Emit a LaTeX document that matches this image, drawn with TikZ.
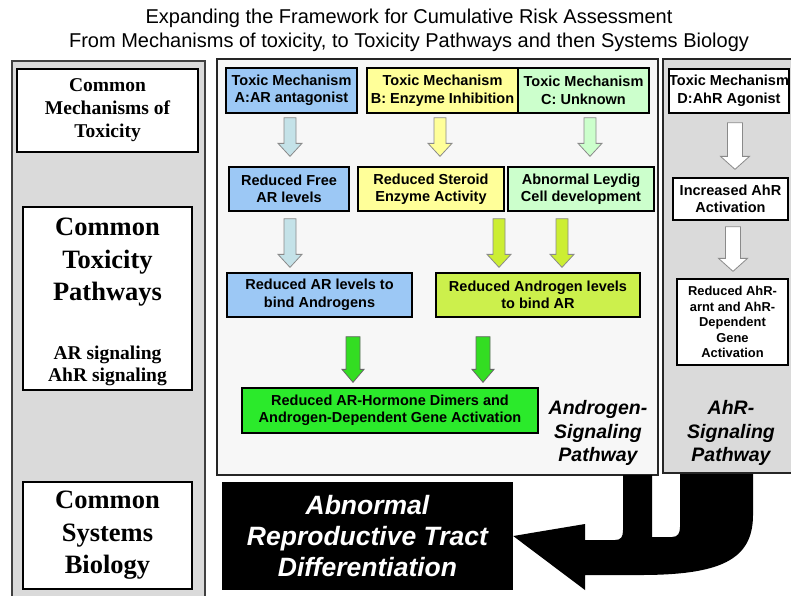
\documentclass[tikz,border=0pt]{standalone}
\usepackage{fontspec}
\setmainfont{Liberation Serif}
\setsansfont{Liberation Sans}
\usetikzlibrary{calc}
\definecolor{panelgray}{HTML}{DADADA}
\definecolor{midpanel}{HTML}{F7F7F7}
\definecolor{boxblue}{HTML}{9CC8F5}
\definecolor{boxyellow}{HTML}{FFFF99}
\definecolor{boxmint}{HTML}{CCFFCC}
\definecolor{boxlime}{HTML}{CCF04C}
\definecolor{boxgreen}{HTML}{2BEA2B}
\definecolor{arrcyan}{HTML}{C4E2E8}
\definecolor{arrlime}{HTML}{CCEE33}
\definecolor{arrgreen}{HTML}{33DD22}
\definecolor{arrline}{HTML}{8A8A8A}
\newcommand\barrow[6]{%
  \filldraw[fill=#1,draw=#2,line width=0.8pt,line join=miter] let \p1=#5, \p2=#6 in
  (\x1-#3,\y1) -- (\x1+#3,\y1) -- (\x1+#3,\y2+13pt) -- (\x1+#4,\y2+13pt)
  -- (\x1,\y2) -- (\x1-#4,\y2+13pt) -- (\x1-#3,\y2+13pt) -- cycle;}
\tikzset{
  mbox/.style={draw=black, line width=1.3pt, align=center, inner sep=0pt,
    font=\sffamily\bfseries\fontsize{14.5}{17.5}\selectfont},
  sbox/.style={mbox, font=\sffamily\bfseries\fontsize{12.9}{15.5}\selectfont},
  lbox/.style={draw=black, line width=1.6pt, fill=white, align=center, inner sep=0pt},
  ltext/.style={align=center, inner sep=0pt, font=\bfseries\fontsize{19.5}{23}\selectfont},
  bigtext/.style={align=center, inner sep=0pt, font=\bfseries\fontsize{26.5}{32.5}\selectfont},
  pathlabel/.style={align=center, inner sep=0pt, font=\sffamily\bfseries\itshape\fontsize{19.5}{23.5}\selectfont},
  titletext/.style={inner sep=0pt, font=\sffamily\fontsize{20}{24}\selectfont},
}
\begin{document}
\begin{tikzpicture}[x=1pt,y=-1pt]
\useasboundingbox (0,0) rectangle (791,595);
\fill[white] (0,0) rectangle (791,595);
% title
\node[titletext] (title1) at (409,18) {Expanding the Framework for Cumulative Risk Assessment};
\node[titletext] (title2) at (409,42) {From Mechanisms of toxicity, to Toxicity Pathways and then Systems Biology};
% panels
\filldraw[fill=panelgray, draw=black!75, line width=1.5pt] (12,61) rectangle (205,600);
\filldraw[fill=midpanel, draw=black!85, line width=1.6pt] (217,59) rectangle (658,475);
\filldraw[fill=panelgray, draw=black!85, line width=1.6pt] (663,59) rectangle (792,473);
% left column
\node[lbox, ltext, minimum width=181pt, minimum height=83pt] (cmt) at (107.5,110.5) {Common\\Mechanisms of\\Toxicity};
\node[lbox, minimum width=169pt, minimum height=183pt] (ctp) at (107.5,298.5) {};
\node[bigtext] (ctpa) at (107.5,262.5) {Common\\Toxicity\\Pathways};
\node[ltext, font=\bfseries\fontsize{19.5}{22}\selectfont] (ctpb) at (107.5,365.5) {AR signaling\\AhR signaling};
\node[lbox, bigtext, minimum width=169pt, minimum height=107pt] (csb) at (107.5,535.5) {Common\\Systems\\Biology};
% middle: row 1
\node[mbox, fill=boxblue, minimum width=131pt, minimum height=45pt] (ma) at (291.5,90.5) {Toxic Mechanism\\A:AR antagonist};
\node[mbox, fill=boxyellow, minimum width=151pt, minimum height=45pt] (mb) at (442.5,90.5) {Toxic Mechanism\\B: Enzyme Inhibition};
\node[mbox, fill=boxmint, minimum width=131pt, minimum height=45pt] (mc) at (583.5,90.5) {Toxic Mechanism\\C: Unknown};
% row 2
\node[mbox, fill=boxblue, minimum width=120pt, minimum height=44pt] (ra) at (289,189) {Reduced Free\\AR levels};
\node[mbox, fill=boxyellow, minimum width=146pt, minimum height=44pt] (rb) at (431,189) {Reduced Steroid\\Enzyme Activity};
\node[mbox, fill=boxmint, minimum width=146pt, minimum height=44pt] (rc) at (581,189) {Abnormal Leydig\\Cell development};
% row 3
\node[mbox, fill=boxblue, minimum width=185pt, minimum height=44pt] (qa) at (319.5,295) {Reduced AR levels to\\bind Androgens};
\node[mbox, fill=boxlime, minimum width=204pt, minimum height=44pt] (qb) at (538,295) {Reduced Androgen levels\\to bind AR};
% final
\node[mbox, fill=boxgreen, minimum width=296pt, minimum height=45pt] (fin) at (390,410.5) {Reduced AR-Hormone Dimers and\\Androgen-Dependent Gene Activation};
\node[pathlabel] (alabel) at (598,433) {Androgen-\\Signaling\\Pathway};
% right column
\node[mbox, fill=white, minimum width=118pt, minimum height=44pt] (md) at (729,91) {Toxic Mechanism\\D:AhR Agonist};
\node[mbox, fill=white, minimum width=115pt, minimum height=42pt] (ahr1) at (730.5,199) {Increased AhR\\Activation};
\node[sbox, fill=white, minimum width=111pt, minimum height=86pt] (ahr2) at (732.5,322) {Reduced AhR-\\arnt and AhR-\\Dependent\\Gene\\Activation};
\node[pathlabel] (hlabel) at (731,433) {AhR-\\Signaling\\Pathway};
% block arrows
\barrow{arrcyan}{arrline}{6pt}{12pt}{($(ma.south)+(-1.5,4)$)}{($(ra.north)+(0,-10)$)}
\barrow{boxyellow}{arrline}{6pt}{12pt}{($(mb.south)+(-2.5,4)$)}{($(rb.north)+(0,-10)$)}
\barrow{boxmint}{arrline}{6pt}{12pt}{($(mc.south)+(6.5,4)$)}{($(rc.north)+(0,-10)$)}
\barrow{arrcyan}{arrline}{6pt}{12pt}{($(ra.south)+(1,7)$)}{($(qa.north)+(0,-5)$)}
\barrow{arrlime}{arrline}{6pt}{12pt}{($(rb.south)+(68,7)$)}{($(qb.north)+(0,-5)$)}
\barrow{arrlime}{arrline}{6pt}{12pt}{($(rc.south)+(-19,7)$)}{($(qb.north)+(0,-5)$)}
\barrow{arrgreen}{black!60}{7pt}{11pt}{($(qa.south)+(33.5,19)$)}{($(fin.north)+(0,-5)$)}
\barrow{arrgreen}{black!60}{7pt}{11pt}{($(qb.south)+(-55,19)$)}{($(fin.north)+(0,-5)$)}
\barrow{white}{arrline}{7.5pt}{14.5pt}{($(md.south)+(6,9)$)}{($(ahr1.north)+(0,-8)$)}
\barrow{white}{arrline}{7.5pt}{14.5pt}{($(ahr1.south)+(2.5,6)$)}{($(ahr2.north)+(0,-7)$)}
% outcome box
\node[fill=black, minimum width=291pt, minimum height=108pt, inner sep=0pt, align=center,
  text=white, font=\sffamily\bfseries\itshape\fontsize{26.5}{31}\selectfont] (out) at (367.5,536) {Abnormal\\Reproductive Tract\\Differentiation};
% big merging arrow into the outcome box
\coordinate (tip) at (out.east);
\fill[black] (tip) -- (585,524) -- (585,540) -- (615,540)
  .. controls (621,540) and (623,537) .. (623,530) -- (623,475) -- (652,475)
  -- (652,537) -- (672,537) .. controls (678,537) and (680,533) .. (680,527)
  -- (680,474) -- (753,474) -- (753,515)
  .. controls (753,560) and (720,575) .. (640,575) -- (585,575) -- (585,590) -- cycle;
\end{tikzpicture}
\end{document}
